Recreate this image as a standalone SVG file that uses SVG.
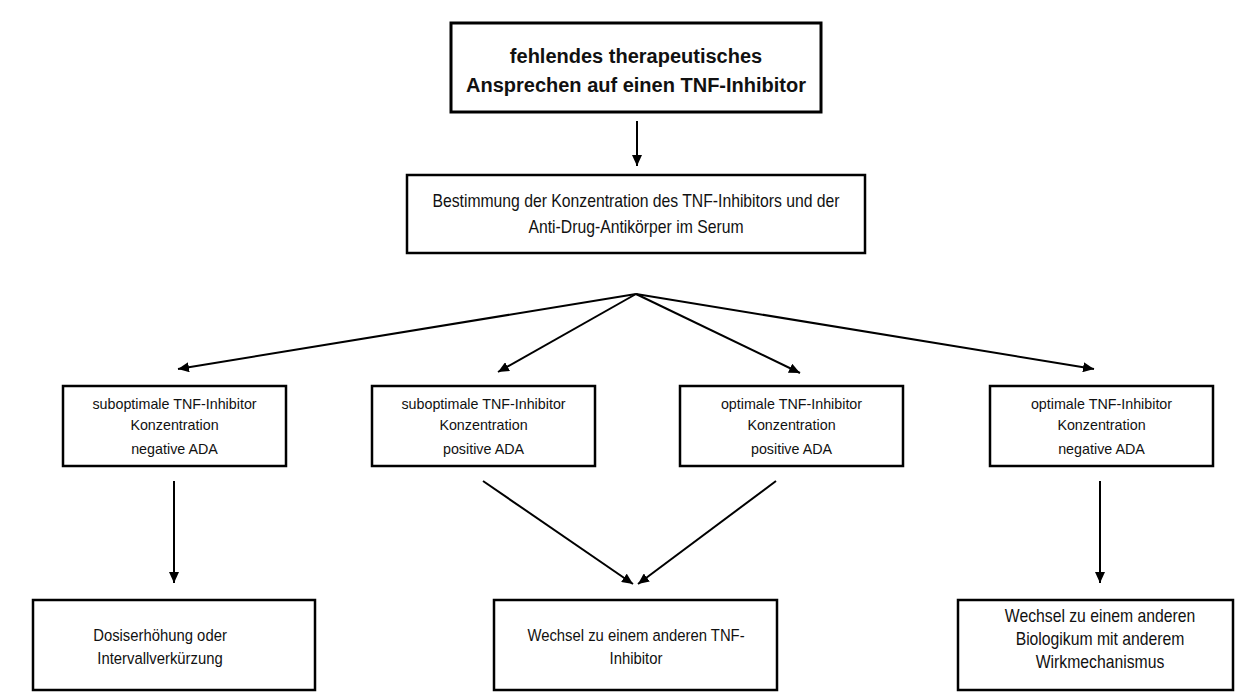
<svg xmlns="http://www.w3.org/2000/svg" width="1236" height="697" viewBox="0 0 1236 697">
<style>
.box{fill:#fff;stroke:#000;stroke-width:2.5}
.t{font-family:"Liberation Sans",Arial,sans-serif;fill:#111;text-anchor:middle}
.b{font-size:20px;font-weight:bold}
.m{font-size:14.3px}
.n{font-size:17.5px}
.s{font-size:16.5px}
.c{stroke:#000;stroke-width:2;fill:none;marker-end:url(#ah)}
</style>
<defs>
<marker id="ah" markerUnits="userSpaceOnUse" markerWidth="11" markerHeight="10" refX="11" refY="5" orient="auto">
<path d="M0,0 L11,5 L0,10 z" fill="#000"/>
</marker>
</defs>
<rect width="1236" height="697" fill="#fff"/>
<g id="n-top">
<rect class="box" x="451" y="23" width="370" height="89" style="stroke-width:3"/>
<text class="t b" x="636" y="63">fehlendes therapeutisches</text>
<text class="t b" x="636" y="92">Ansprechen auf einen TNF-Inhibitor</text>
</g>
<g id="n-test">
<rect class="box" x="407" y="175" width="458" height="78"/>
<text class="t n" transform="translate(636,207) scale(0.9,1)">Bestimmung der Konzentration des TNF-Inhibitors und der</text>
<text class="t n" transform="translate(636,233) scale(0.9,1)">Anti-Drug-Antikörper im Serum</text>
</g>
<g id="n-a">
<rect class="box" x="63" y="386" width="223" height="80"/>
<text class="t m" x="174.5" y="409">suboptimale TNF-Inhibitor</text>
<text class="t m" x="174.5" y="430">Konzentration</text>
<text class="t m" x="174.5" y="454">negative ADA</text>
</g>
<g id="n-b">
<rect class="box" x="372" y="386" width="223" height="80"/>
<text class="t m" x="483.5" y="409">suboptimale TNF-Inhibitor</text>
<text class="t m" x="483.5" y="430">Konzentration</text>
<text class="t m" x="483.5" y="454">positive ADA</text>
</g>
<g id="n-c">
<rect class="box" x="680" y="386" width="223" height="80"/>
<text class="t m" x="791.5" y="409">optimale TNF-Inhibitor</text>
<text class="t m" x="791.5" y="430">Konzentration</text>
<text class="t m" x="791.5" y="454">positive ADA</text>
</g>
<g id="n-d">
<rect class="box" x="990" y="386" width="223" height="80"/>
<text class="t m" x="1101.5" y="409">optimale TNF-Inhibitor</text>
<text class="t m" x="1101.5" y="430">Konzentration</text>
<text class="t m" x="1101.5" y="454">negative ADA</text>
</g>
<g id="n-dose">
<rect class="box" x="33" y="600" width="282" height="90"/>
<text class="t s" transform="translate(160,641) scale(0.9,1)">Dosiserhöhung oder</text>
<text class="t s" transform="translate(160,664) scale(0.9,1)">Intervallverkürzung</text>
</g>
<g id="n-switch">
<rect class="box" x="494" y="600" width="283" height="90"/>
<text class="t s" transform="translate(636,641) scale(0.9,1)">Wechsel zu einem anderen TNF-</text>
<text class="t s" transform="translate(636,664) scale(0.9,1)">Inhibitor</text>
</g>
<g id="n-bio">
<rect class="box" x="958" y="600" width="275" height="90"/>
<text class="t n" transform="translate(1100,622) scale(0.9,1)">Wechsel zu einem anderen</text>
<text class="t n" transform="translate(1100,645) scale(0.9,1)">Biologikum mit anderem</text>
<text class="t n" transform="translate(1100,668) scale(0.9,1)">Wirkmechanismus</text>
</g>
<g id="connectors">
<line class="c" x1="637" y1="121" x2="637" y2="166"/>
<line class="c" x1="636" y1="294" x2="178" y2="369"/>
<line class="c" x1="636" y1="294" x2="498" y2="372"/>
<line class="c" x1="636" y1="294" x2="800" y2="373"/>
<line class="c" x1="636" y1="294" x2="1094" y2="369"/>
<line class="c" x1="174" y1="481" x2="174" y2="583"/>
<line class="c" x1="483" y1="481" x2="633" y2="584"/>
<line class="c" x1="776" y1="481" x2="638" y2="584"/>
<line class="c" x1="1100" y1="481" x2="1100" y2="583"/>
</g>
</svg>
